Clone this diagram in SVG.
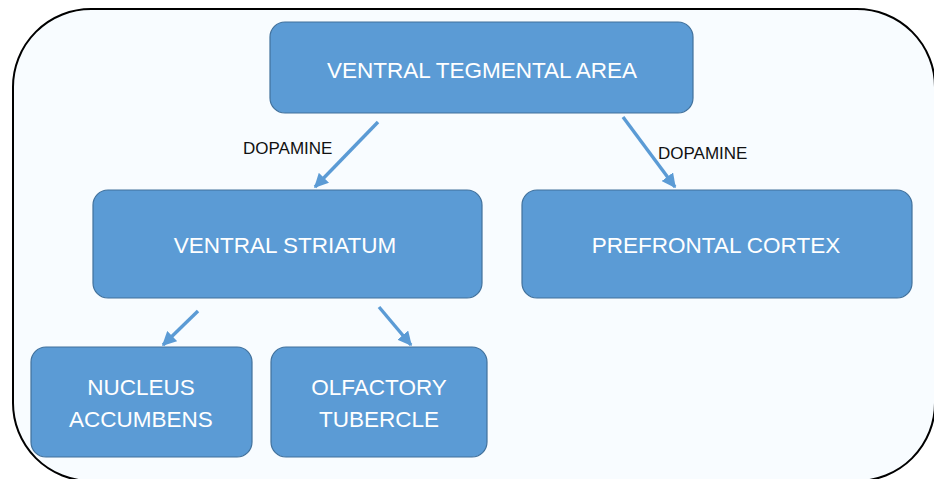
<svg xmlns="http://www.w3.org/2000/svg" width="934" height="479" viewBox="0 0 934 479">
<defs>
<style>
.node rect{fill:#5b9bd5;stroke:#41719c;stroke-width:1.2}
.node text{fill:#ffffff;font-family:"Liberation Sans",Arial,sans-serif;font-size:22.5px;text-anchor:middle}
.lbl{fill:#111111;font-family:"Liberation Sans",Arial,sans-serif;font-size:17px}
.conn line{stroke:#5b9bd5;stroke-width:3.4;fill:none}
</style>
<marker id="ah" viewBox="0 0 10 10" refX="9" refY="5" markerWidth="4.2" markerHeight="4.2" orient="auto" markerUnits="strokeWidth">
<path d="M0,0 L10,5 L0,10 z" fill="#5b9bd5"/>
</marker>
</defs>
<rect x="0" y="0" width="934" height="479" fill="#ffffff"/>
<rect id="frame" x="13" y="9" width="922" height="472" rx="78" ry="78" fill="#f8fcff" stroke="#000000" stroke-width="2"/>
<g id="connectors" class="conn">
<line x1="378" y1="122" x2="315" y2="187" marker-end="url(#ah)"/>
<line x1="623" y1="117" x2="675" y2="187" marker-end="url(#ah)"/>
<line x1="198" y1="311" x2="163" y2="345" marker-end="url(#ah)"/>
<line x1="379" y1="307" x2="411" y2="345" marker-end="url(#ah)"/>
</g>
<text class="lbl" x="243" y="154">DOPAMINE</text>
<text class="lbl" x="658" y="159">DOPAMINE</text>
<g id="vta" class="node">
<rect x="270" y="22" width="423" height="91" rx="15"/>
<text x="482" y="78">VENTRAL TEGMENTAL AREA</text>
</g>
<g id="vs" class="node">
<rect x="93" y="190" width="389" height="108" rx="15"/>
<text x="285" y="253">VENTRAL STRIATUM</text>
</g>
<g id="pfc" class="node">
<rect x="522" y="190" width="390" height="108" rx="15"/>
<text x="716" y="253">PREFRONTAL CORTEX</text>
</g>
<g id="na" class="node">
<rect x="31" y="347" width="221" height="110" rx="15"/>
<text x="141" y="395">NUCLEUS</text>
<text x="141" y="427">ACCUMBENS</text>
</g>
<g id="ot" class="node">
<rect x="271" y="347" width="216" height="110" rx="15"/>
<text x="379" y="395">OLFACTORY</text>
<text x="379" y="427">TUBERCLE</text>
</g>
</svg>
